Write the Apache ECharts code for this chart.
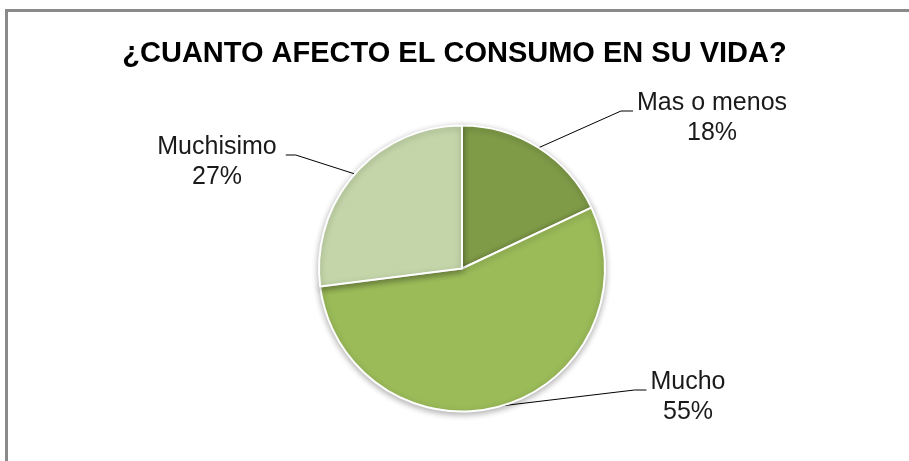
<!DOCTYPE html>
<html>
<head>
<meta charset="utf-8">
<script src="https://cdn.jsdelivr.net/npm/echarts@6/dist/echarts.min.js"></script>
<style>
  html, body { margin: 0; padding: 0; background: #fff; }
  #chart { width: 909px; height: 461px; }
  #frame { position: absolute; left: 5px; top: 9px; right: -10px; bottom: -10px;
           border-top: 3px solid #8a8a8a; border-left: 3px solid #8a8a8a; pointer-events: none; }
</style>
</head>
<body>
<div id="chart"></div>
<div id="frame"></div>
<script>
const titleText = '¿CUANTO AFECTO EL CONSUMO EN SU VIDA?';
const categories = ['Mas o menos', 'Mucho', 'Muchisimo'];
const values = [18, 55, 27];
const colors = ['#7F9B48', '#9BBB59', '#C4D6A9'];

// label anchor (center of text block) per slice, and side of leader line
const labelPos = [
  { x: 712, y: 118, side: 'right' },
  { x: 688, y: 397, side: 'right' },
  { x: 217, y: 162, side: 'left' }
];

const chart = echarts.init(document.getElementById('chart'));
chart.setOption({
  backgroundColor: '#fff',
  animation: false,
  title: {
    text: titleText,
    left: 'center',
    top: 34,
    textStyle: { fontFamily: 'Liberation Sans', fontSize: 29, fontWeight: 'bold', color: '#000' }
  },
  series: [{
    type: 'pie',
    center: [462, 268.5],
    radius: 143,
    startAngle: 90,
    clockwise: true,
    data: categories.map((c, i) => ({ name: c, value: values[i], itemStyle: { color: colors[i] } })),
    itemStyle: {
      borderColor: '#fff',
      borderWidth: 2,
      shadowBlur: 6,
      shadowOffsetY: 2,
      shadowColor: 'rgba(0,0,0,0.3)'
    },
    label: {
      show: true,
      formatter: '{b}\n{c}%',
      fontFamily: 'Liberation Sans',
      fontSize: 25,
      lineHeight: 30,
      color: '#1a1a1a',
      align: 'center'
    },
    labelLine: {
      show: true,
      length: 20,
      length2: 10,
      lineStyle: { color: '#000', width: 1 }
    },
    labelLayout: function (params) {
      const p = labelPos[params.dataIndex];
      const w = params.labelRect.width;
      const p0 = params.labelLinePoints ? params.labelLinePoints[0] : [p.x, p.y];
      let p2, p1;
      if (p.side === 'right') {
        p2 = [p.x - w / 2 - 4, p.y - 7];
        p1 = [p2[0] - 12, p2[1]];
      } else {
        p2 = [p.x + w / 2 + 9, p.y - 7];
        p1 = [p2[0] + 10, p2[1]];
      }
      return {
        x: p.x,
        y: p.y,
        align: 'center',
        verticalAlign: 'middle',
        labelLinePoints: [p0, p1, p2]
      };
    }
  }]
});
</script>
</body>
</html>
